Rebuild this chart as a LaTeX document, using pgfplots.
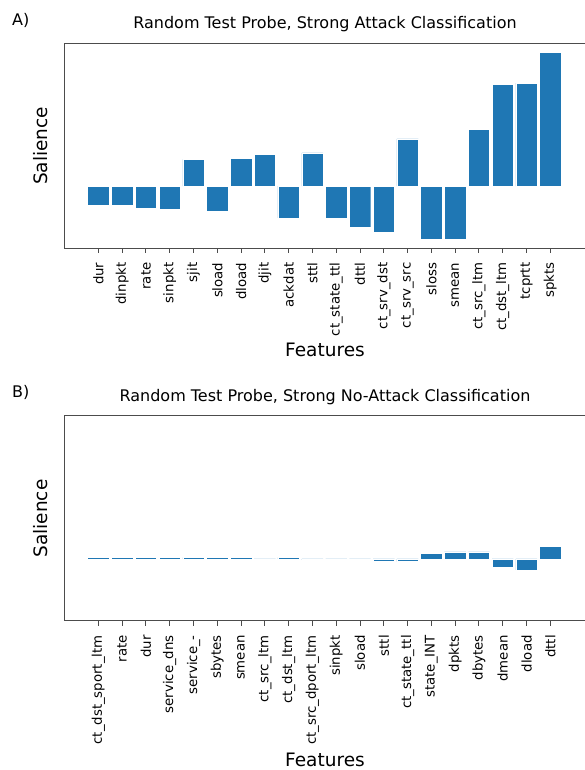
\documentclass[border=0pt]{standalone}
\usepackage{fontspec}
\setmainfont{DejaVu Sans}
\usepackage{pgfplots}
\pgfplotsset{compat=1.18}
\definecolor{mplblue}{HTML}{1F77B4}

% shared look of both panels (same y range: sharey)
\pgfplotsset{
  salience/.style={
    scale only axis, width=522pt, height=205pt,
    anchor=south west,
    ybar, bar width=0.9,
    xmin=-1.445, xmax=20.5, ymin=-1.86, ymax=4.28,
    xtick={0,...,19}, ytick=\empty,
    xtick pos=left, tick align=outside,
    major tick length=4.7pt,
    every tick/.style={black!70, line width=1pt},
    axis line style={black!70, line width=1pt},
    xticklabel style={rotate=90, anchor=east, inner sep=0pt,
      font=\fontsize{13.3}{16}\selectfont},
    xticklabel shift=9.4pt,
    title style={at={(axis description cs:0.5,1)}, anchor=base,
      yshift=8.3pt, inner sep=0pt, font=\fontsize{16}{19}\selectfont},
    ylabel={Salience},
    ylabel style={at={(axis description cs:-0.031,0.5)}, anchor=base,
      rotate=0, inner sep=0pt, font=\fontsize{18.5}{22}\selectfont},
    xlabel={Features},
  },
  bars/.style={fill=mplblue, draw=white, line width=0.4pt},
}

\begin{document}
\begin{tikzpicture}
\begin{axis}[salience,
  at={(64pt,521.7pt)},
  title={Random Test Probe, Strong Attack Classification},
  xlabel style={at={(axis description cs:0.5,0)}, anchor=base,
    yshift=-108.4pt, inner sep=0pt, font=\fontsize{18.5}{22}\selectfont},
  xticklabels={dur,dinpkt,rate,sinpkt,sjit,sload,dload,djit,ackdat,sttl,
    ct\_state\_ttl,dttl,ct\_srv\_dst,ct\_srv\_src,sloss,smean,
    ct\_src\_ltm,ct\_dst\_ltm,tcprtt,spkts},
]
\addplot[bars] coordinates {
  (0,-0.57) (1,-0.57) (2,-0.66) (3,-0.70) (4,0.80)
  (5,-0.75) (6,0.84) (7,0.96) (8,-0.95) (9,1.00)
  (10,-0.95) (11,-1.24) (12,-1.37) (13,1.42) (14,-1.58)
  (15,-1.58) (16,1.71) (17,3.05) (18,3.09) (19,4.00)
};
\end{axis}

\begin{axis}[salience,
  at={(64pt,149pt)},
  title={Random Test Probe, Strong No-Attack Classification},
  xlabel style={at={(axis description cs:0.5,0)}, anchor=base,
    yshift=-145pt, inner sep=0pt, font=\fontsize{18.5}{22}\selectfont},
  xticklabels={ct\_dst\_sport\_ltm,rate,dur,service\_dns,service\_-,sbytes,
    smean,ct\_src\_ltm,ct\_dst\_ltm,ct\_src\_dport\_ltm,sinpkt,sload,sttl,
    ct\_state\_ttl,state\_INT,dpkts,dbytes,dmean,dload,dttl},
]
\addplot[bars] coordinates {
  (0,0.04) (1,0.04) (2,0.04) (3,0.04) (4,0.04)
  (5,0.04) (6,0.04) (7,-0.04) (8,0.04) (9,-0.03)
  (10,-0.03) (11,-0.03) (12,-0.08) (13,-0.08) (14,0.17)
  (15,0.21) (16,0.21) (17,-0.24) (18,-0.33) (19,0.37)
};
\end{axis}

\node[anchor=base west, inner sep=0pt, font=\fontsize{16}{19}\selectfont]
  at (12pt,744pt) {A)};
\node[anchor=base west, inner sep=0pt, font=\fontsize{16}{19}\selectfont]
  at (12pt,372.6pt) {B)};

\pgfresetboundingbox
\path[use as bounding box] (0,0) rectangle (584pt,770pt);
\end{tikzpicture}
\end{document}
